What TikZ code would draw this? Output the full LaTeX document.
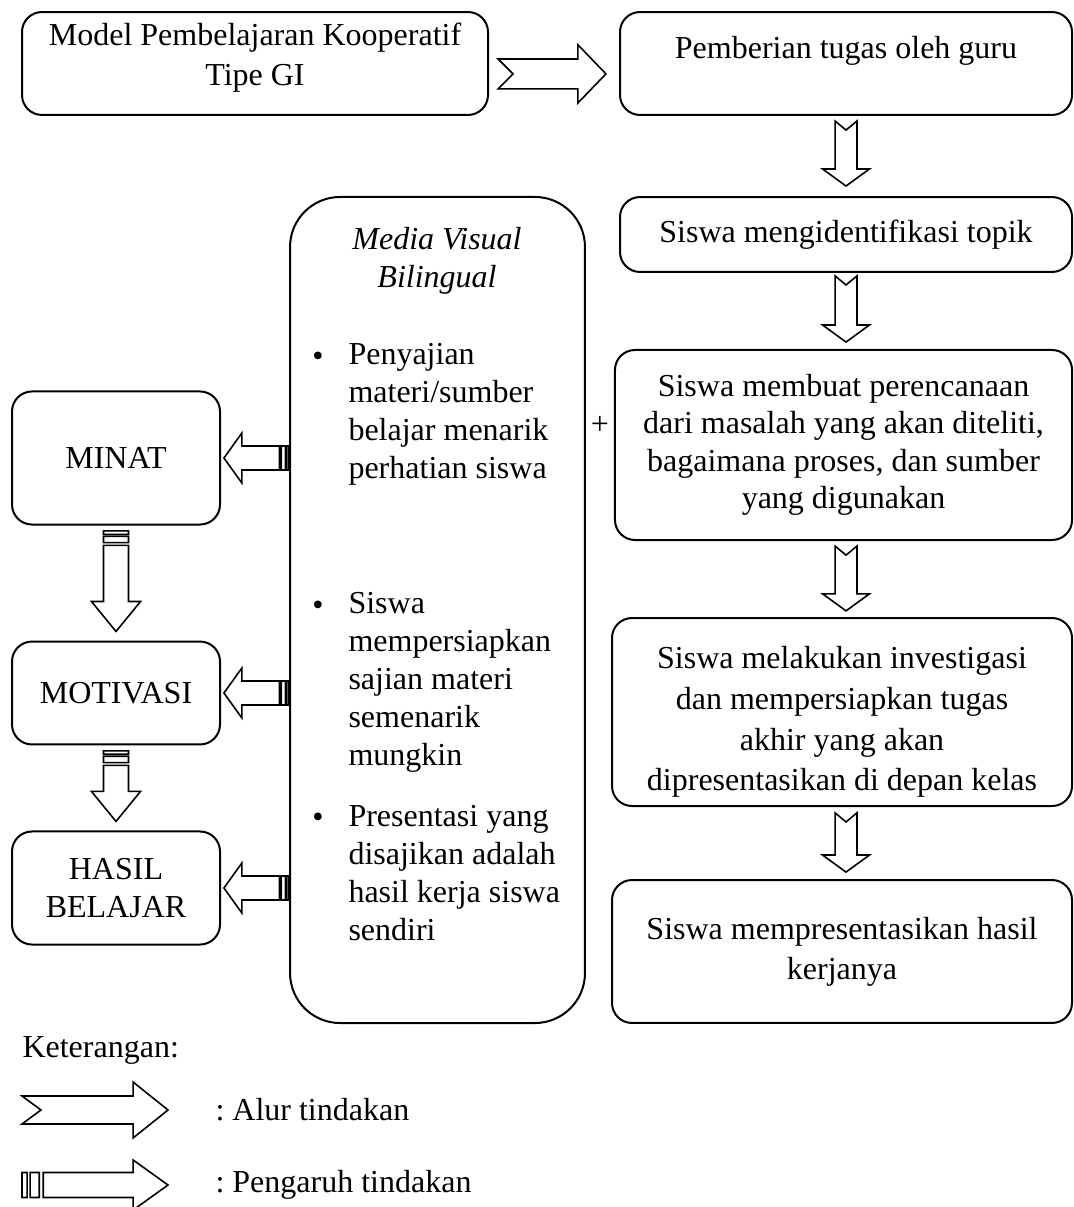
\documentclass[tikz,border=0pt]{standalone}
\usepackage{fontspec}
\setmainfont{Liberation Serif}
\usetikzlibrary{calc}
\frenchspacing

% teks dalam kotak digeser naik/turun tanpa mengubah kotak
\newcommand{\lift}[2]{\raisebox{#1}[\height][\depth]{\begin{tabular}{@{}c@{}}#2\end{tabular}}}

\tikzset{
  box/.style={draw, line width=0.75pt, rounded corners=7.5pt, align=center, inner sep=0pt},
  txt/.style={align=left, inner sep=0pt},
  block/.style={draw, line width=0.6pt, line join=miter, fill=white},
  notched/.style n args={4}{to path={let \p1=(\tikztostart), \p2=(\tikztotarget),
      \n1={atan2(\y2-\y1,\x2-\x1)}, \n2={veclen(\x2-\x1,\y2-\y1)} in
      [shift={(\p1)}, rotate=\n1]
      (0pt,#1) -- ({\n2-#3},#1) -- ({\n2-#3},#2) -- ({\n2*1pt},0pt)
      -- ({\n2-#3},-#2) -- ({\n2-#3},-#1) -- (0pt,-#1) -- (#4,0pt) -- cycle}},
  striped/.style n args={4}{to path={let \p1=(\tikztostart), \p2=(\tikztotarget),
      \n1={atan2(\y2-\y1,\x2-\x1)}, \n2={veclen(\x2-\x1,\y2-\y1)} in
      [shift={(\p1)}, rotate=\n1]
      (0pt,-#1) -- (0pt,#1) -- (#4,#1) -- (#4,-#1) -- cycle
      ({1.6*#4},-#1) -- ({1.6*#4},#1) -- ({3.4*#4},#1) -- ({3.4*#4},-#1) -- cycle
      ({4.2*#4},#1) -- ({\n2-#3},#1) -- ({\n2-#3},#2) -- ({\n2*1pt},0pt)
      -- ({\n2-#3},-#2) -- ({\n2-#3},-#1) -- ({4.2*#4},-#1) -- cycle}},
}

\begin{document}
\begin{tikzpicture}[x=0.375pt, y=-0.375pt, font=\fontsize{12}{14}\selectfont]
\useasboundingbox (0,0) rectangle (1073,1207);

% Alur model GI
\node[box, minimum width=174.75pt, minimum height=38.6pt, font=\fontsize{12}{15}\selectfont] (model) at (255,63.5) {\lift{2.4pt}{Model Pembelajaran Kooperatif\\Tipe GI}};
\node[box, minimum width=169.5pt, minimum height=38.6pt] (pemberian) at (846,63.5) {\lift{4.8pt}{Pemberian tugas oleh guru}};
\node[box, minimum width=169.5pt, minimum height=28.1pt] (identifikasi) at (846,234.5) {Siswa mengidentifikasi topik};
\node[box, minimum width=171.4pt, minimum height=71.25pt] (rencana) at (843.5,445) {Siswa membuat perencanaan\\dari masalah yang akan diteliti,\\bagaimana proses, dan sumber\\yang digunakan};
\node[box, minimum width=172.5pt, minimum height=70.5pt, font=\fontsize{12}{15.3}\selectfont] (investigasi) at (842,712) {\lift{-3.6pt}{Siswa melakukan investigasi\\dan mempersiapkan tugas\\akhir yang akan\\dipresentasikan di depan kelas}};
\node[box, minimum width=172.5pt, minimum height=53.6pt, font=\fontsize{12}{15}\selectfont] (presentasi) at (842,951.5) {Siswa mempresentasikan hasil\\kerjanya};

% Media visual bilingual
\node[box, rounded corners=18.75pt, minimum width=110.6pt, minimum height=309.75pt] (media) at (437.5,610) {};
\node[align=center, inner sep=0pt, font=\fontsize{12}{14.25}\selectfont\itshape] (judul) at (437,261) {Media Visual\\Bilingual};
\node[inner sep=0pt] (b1) at (318,359) {\textbullet};
\node[txt, anchor=west, font=\fontsize{12}{14.25}\selectfont] (p1) at (348,414) {Penyajian\\materi/sumber\\belajar menarik\\perhatian siswa};
\node[inner sep=0pt] (b2) at (318,608) {\textbullet};
\node[txt, anchor=west, font=\fontsize{12}{14.25}\selectfont] (p2) at (348,682) {Siswa\\mempersiapkan\\sajian materi\\semenarik\\mungkin};
\node[inner sep=0pt] (b3) at (318,820) {\textbullet};
\node[txt, anchor=west, font=\fontsize{12}{14.25}\selectfont] (p3) at (348,873) {Presentasi yang\\disajikan adalah\\hasil kerja siswa\\sendiri};
\node[inner sep=0pt] (plus) at (600,425) {+};

% Hasil
\node[box, minimum width=78pt, minimum height=49.9pt] (minat) at (116,458) {MINAT};
\node[box, minimum width=78pt, minimum height=38.6pt] (motivasi) at (116,693) {MOTIVASI};
\node[box, minimum width=78pt, minimum height=42.4pt] (hasil) at (116,888) {HASIL\\BELAJAR};

% Panah alur
\draw[block, notched={5.6pt}{10.9pt}{10.5pt}{5.6pt}] ([xshift=3.4pt,yshift=-3.9pt]model.east) to ([xshift=-4.9pt,yshift=-3.9pt]pemberian.west);
\draw[block, notched={4.1pt}{8.8pt}{6.4pt}{3.4pt}] ([yshift=-1.9pt]pemberian.south) to ([yshift=3.75pt]identifikasi.north);
\draw[block, notched={4.1pt}{8.8pt}{6.4pt}{3.4pt}] ([yshift=-1.1pt]identifikasi.south) to ([yshift=2.6pt]identifikasi.south |- rencana.north);
\draw[block, notched={4.1pt}{8.8pt}{6.4pt}{3.4pt}] ([yshift=-1.9pt]identifikasi.south |- rencana.south) to ([yshift=2.3pt]identifikasi.south |- investigasi.north);
\draw[block, notched={4.1pt}{8.8pt}{6.4pt}{3.4pt}] ([yshift=-2.2pt]identifikasi.south |- investigasi.south) to ([yshift=2.6pt]identifikasi.south |- presentasi.north);

% Panah pengaruh
\draw[block, striped={4.5pt}{9.4pt}{6.75pt}{0.86pt}] (media.west |- minat.east) to ([xshift=1.1pt]minat.east);
\draw[block, striped={4.5pt}{9.4pt}{6.75pt}{0.86pt}] (media.west |- motivasi.east) to ([xshift=1.1pt]motivasi.east);
\draw[block, striped={4.5pt}{9.4pt}{6.75pt}{0.86pt}] (media.west |- hasil.east) to ([xshift=1.1pt]hasil.east);
\draw[block, striped={4.7pt}{9.2pt}{11.25pt}{1.3pt}] ([yshift=-2pt]minat.south) to ([yshift=3.4pt]motivasi.north);
\draw[block, striped={4.7pt}{9.2pt}{11.25pt}{1.3pt}] ([yshift=-2pt]motivasi.south) to ([yshift=3.4pt]hasil.north);

% Keterangan
\node[anchor=west, inner sep=0pt] (ket) at (22,1050) {Keterangan:};
\coordinate (alur1) at (22,1110);
\coordinate (alur2) at (168,1110);
\draw[block, notched={5.25pt}{10.5pt}{13.1pt}{7.1pt}] (alur1) to (alur2);
\node[anchor=west, inner sep=0pt] (alur) at (215,1110) {: Alur tindakan};
\coordinate (pengaruh1) at (22,1185);
\coordinate (pengaruh2) at (168,1185);
\draw[block, striped={4.7pt}{9.4pt}{13.1pt}{1.9pt}] (pengaruh1) to (pengaruh2);
\node[anchor=west, inner sep=0pt] (pengaruh) at (215,1185) {: Pengaruh tindakan};
\end{tikzpicture}
\end{document}
